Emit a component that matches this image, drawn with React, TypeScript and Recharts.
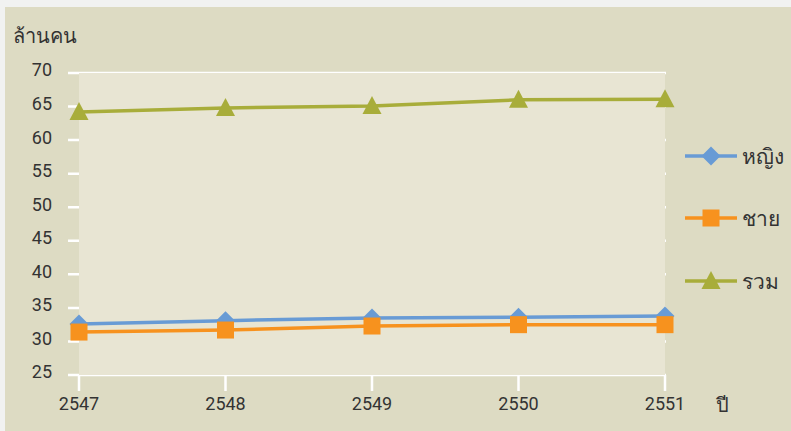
import React from "react";
import {
  LineChart,
  Line,
  XAxis,
  YAxis,
  CartesianGrid,
  ReferenceArea,
} from "recharts";

const years = [2547, 2548, 2549, 2550, 2551];
const female = [32.6, 33.1, 33.5, 33.6, 33.8];
const male = [31.4, 31.7, 32.3, 32.5, 32.5];
const total = [64.2, 64.8, 65.1, 66.0, 66.1];
const yTicks = [25, 30, 35, 40, 45, 50, 55, 60, 65, 70];

const seriesNames = ["หญิง", "ชาย", "รวม"];
const BLUE = "#689bd5";
const ORANGE = "#f7921e";
const OLIVE = "#a8ad3a";

const data = years.map((y, i) => ({
  year: y,
  female: female[i],
  male: male[i],
  total: total[i],
}));

const FONT = "Roboto, 'Noto Sans', sans-serif";

function Diamond({ cx, cy, fill }: { cx: number; cy: number; fill: string }) {
  const r = 9.5;
  return (
    <path
      d={`M${cx},${cy - r} L${cx + r},${cy} L${cx},${cy + r} L${cx - r},${cy} Z`}
      fill={fill}
    />
  );
}

function Square({ cx, cy, fill }: { cx: number; cy: number; fill: string }) {
  const s = 8.5;
  return <rect x={cx - s} y={cy - s} width={s * 2} height={s * 2} fill={fill} />;
}

function Triangle({ cx, cy, fill }: { cx: number; cy: number; fill: string }) {
  const w = 9.5;
  return (
    <path
      d={`M${cx},${cy - 10} L${cx + w},${cy + 8} L${cx - w},${cy + 8} Z`}
      fill={fill}
    />
  );
}

const dotFor =
  (Shape: typeof Diamond, fill: string) =>
  (p: any) =>
    <Shape key={`d-${p.index}`} cx={p.cx} cy={p.cy} fill={fill} />;

const legendItems = [
  { name: seriesNames[0], color: BLUE, Shape: Diamond, top: 156 },
  { name: seriesNames[1], color: ORANGE, Shape: Square, top: 218 },
  { name: seriesNames[2], color: OLIVE, Shape: Triangle, top: 281 },
];

export default function App() {
  return (
    <div
      style={{
        position: "absolute",
        left: 0,
        top: 0,
        width: 791,
        height: 431,
        background: "#f1f2f1",
        fontFamily: FONT,
      }}
    >
      <div
        style={{
          position: "absolute",
          left: 5,
          top: 7,
          width: 786,
          height: 424,
          background: "#dddbc3",
        }}
      >
        <LineChart
          width={786}
          height={424}
          data={data}
          margin={{ top: 66, right: 125, bottom: 26, left: 0 }}
        >
          <ReferenceArea
            x1={2547}
            x2={2551}
            y1={25}
            y2={70}
            fill="#e8e5d3"
            fillOpacity={1}
            stroke="none"
          />
          <CartesianGrid vertical={false} stroke="#ffffff" strokeWidth={2.5} />
          <XAxis
            dataKey="year"
            type="number"
            domain={[2547, 2551]}
            ticks={years}
            padding={{ left: 11, right: 1 }}
            axisLine={false}
            tickLine={{ stroke: "#ffffff", strokeWidth: 2.5 }}
            tickSize={16}
            tickMargin={6}
            tick={{ fill: "#333333", fontSize: 18, fontFamily: FONT }}
          />
          <YAxis
            width={63}
            domain={[25, 70]}
            ticks={yTicks}
            axisLine={false}
            tickLine={false}
            tickSize={0}
            tickMargin={16}
            tick={{ fill: "#333333", fontSize: 18, fontFamily: FONT, dy: -3 }}
          />
          <Line
            dataKey="female"
            stroke={BLUE}
            strokeWidth={3.5}
            dot={dotFor(Diamond, BLUE)}
            activeDot={false}
            isAnimationActive={false}
          />
          <Line
            dataKey="male"
            stroke={ORANGE}
            strokeWidth={3.5}
            dot={dotFor(Square, ORANGE)}
            activeDot={false}
            isAnimationActive={false}
          />
          <Line
            dataKey="total"
            stroke={OLIVE}
            strokeWidth={3.5}
            dot={dotFor(Triangle, OLIVE)}
            activeDot={false}
            isAnimationActive={false}
          />
        </LineChart>

        <div
          style={{
            position: "absolute",
            left: 8,
            top: 13,
            fontSize: 20,
            color: "#333333",
          }}
        >
          ล้านคน
        </div>
        <div
          style={{
            position: "absolute",
            left: 711,
            top: 382,
            fontSize: 20,
            color: "#333333",
          }}
        >
          ปี
        </div>

        {legendItems.map((it) => (
          <div
            key={it.name}
            style={{
              position: "absolute",
              left: 680,
              top: it.top - 7 - 14,
              height: 28,
              display: "flex",
              alignItems: "center",
            }}
          >
            <svg width={54} height={28}>
              <line x1={0} y1={14} x2={52} y2={14} stroke={it.color} strokeWidth={3.5} />
              <it.Shape cx={26} cy={14} fill={it.color} />
            </svg>
            <span style={{ fontSize: 21, color: "#333333", marginLeft: 3 }}>
              {it.name}
            </span>
          </div>
        ))}
      </div>
    </div>
  );
}
